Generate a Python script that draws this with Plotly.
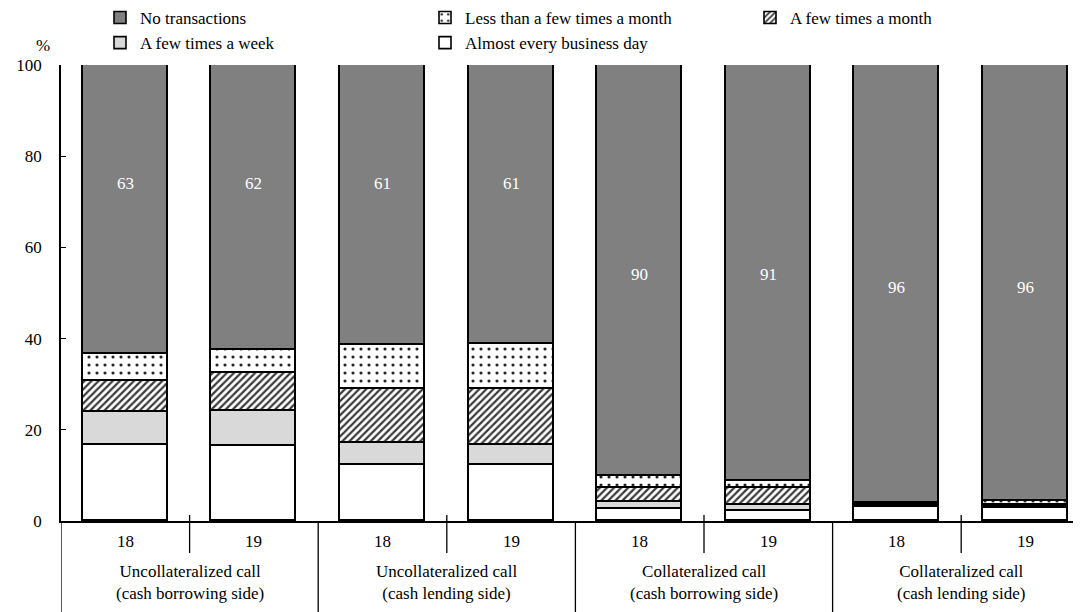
import plotly.graph_objects as go

# ---------------- data ----------------
groups = [
    "Uncollateralized call<br>(cash borrowing side)",
    "Uncollateralized call<br>(cash lending side)",
    "Collateralized call<br>(cash borrowing side)",
    "Collateralized call<br>(cash lending side)",
]
years = ["18", "19", "18", "19", "18", "19", "18", "19"]

almost_every_day = [16.7, 16.4, 12.3, 12.3, 2.6, 2.2, 3.1, 2.8]
few_week = [7.1, 7.8, 4.8, 4.4, 1.6, 1.3, 0.3, 0.3]
few_month = [6.9, 8.2, 11.9, 12.2, 3.1, 3.7, 0.3, 0.4]
less_month = [6.0, 5.2, 9.6, 10.0, 2.5, 1.6, 0.3, 0.9]
no_trans = [63.3, 62.4, 61.4, 61.1, 90.2, 91.2, 96.0, 95.6]

y_ticks = [0, 20, 40, 60, 80, 100]

# ---------------- figure ----------------
FONT = "Times New Roman"
OFF = 8                      # page body margin in the browser
W, H = 1081 - OFF, 612 - OFF
PLOT_LEFT, PLOT_TOP, PLOT_BOTTOM = 61, 65, 521   # screen pixels
ML = PLOT_LEFT - OFF
MT = PLOT_TOP - OFF
MB = H - (PLOT_BOTTOM - OFF)
MR = 0
PH = H - MT - MB
PW = W - ML - MR
x = list(range(len(years)))
step = 128.6
x_max = -0.5 + PW / step


def py(p):
    """screen pixel row -> paper y"""
    return (PLOT_BOTTOM - p) / PH


def px(p):
    """screen pixel column -> paper x"""
    return (p - PLOT_LEFT) / PW


fig = go.Figure()

series = [
    ("Almost every business day", almost_every_day, dict(color="white")),
    ("A few times a week", few_week, dict(color="#d9d9d9")),
    ("A few times a month", few_month,
     dict(color="white", pattern=dict(shape="/", fgcolor="#3a3a3a", bgcolor="white",
                                      size=5, solidity=0.45, fillmode="replace"))),
    ("Less than a few times a month", less_month,
     dict(color="white", pattern=dict(shape=".", fgcolor="#222222", bgcolor="white",
                                      size=8, solidity=0.12, fillmode="replace"))),
    ("No transactions", no_trans, dict(color="#808080")),
]

for name, vals, mk in series:
    marker = dict(mk)
    marker["line"] = dict(color="black", width=1.6)
    fig.add_trace(go.Bar(
        x=x, y=vals, name=name, marker=marker, width=0.66,
        hoverinfo="name+y",
    ))

annotations = []
label_y = [74, 74, 74, 74, 54, 54, 51.3, 51.3]
for i, v in enumerate(no_trans):
    annotations.append(dict(x=i, y=label_y[i], xref="x", yref="y", text=str(round(v)),
                            showarrow=False, font=dict(family=FONT, size=17, color="white")))
for i, yr in enumerate(years):
    annotations.append(dict(x=i, y=py(541), xref="x", yref="paper", text=yr,
                            showarrow=False, yanchor="middle",
                            font=dict(family=FONT, size=17, color="black")))
for g, gl in enumerate(groups):
    annotations.append(dict(x=2 * g + 0.5, y=py(582), xref="x", yref="paper",
                            text=gl, showarrow=False, yanchor="middle",
                            font=dict(family=FONT, size=17, color="black")))
annotations.append(dict(x=px(43), y=py(46), xref="paper", yref="paper", xanchor="center",
                        yanchor="middle", text="%", showarrow=False,
                        font=dict(family=FONT, size=17, color="black")))

shapes = []
for xv in [-0.5, 1.5, 3.5, 5.5]:
    shapes.append(dict(type="line", xref="x", yref="paper", x0=xv, x1=xv,
                       y0=0, y1=py(620), line=dict(color="black", width=1.3)))
for xv in [0.5, 2.5, 4.5, 6.5]:
    shapes.append(dict(type="line", xref="x", yref="paper", x0=xv, x1=xv,
                       y0=py(515), y1=py(553), line=dict(color="black", width=1.3)))

fig.update_layout(
    width=W, height=H,
    margin=dict(l=ML, r=MR, t=MT, b=MB, autoexpand=False),
    barmode="stack", bargap=0,
    plot_bgcolor="white", paper_bgcolor="white",
    font=dict(family=FONT, size=17, color="black"),
    annotations=annotations, shapes=shapes,
    legend=dict(
        orientation="h", traceorder="reversed",
        x=px(100), y=py(0), xanchor="left", yanchor="top",
        entrywidth=280, entrywidthmode="pixels",
        font=dict(family=FONT, size=17, color="black"),
        bgcolor="rgba(0,0,0,0)", borderwidth=0,
    ),
)
fig.update_xaxes(range=[-0.5, x_max], showticklabels=False, ticks="",
                 showline=True, linecolor="black", linewidth=1.6,
                 showgrid=False, zeroline=False)
fig.update_yaxes(range=[0, 100], tickvals=y_ticks, ticks="inside", ticklen=5,
                 tickcolor="black", showline=True, linecolor="black", linewidth=1.6,
                 mirror=True, showgrid=False, zeroline=False,
                 ticklabelstandoff=14,
                 tickfont=dict(family=FONT, size=17, color="black"))

fig.write_html("out.html")
